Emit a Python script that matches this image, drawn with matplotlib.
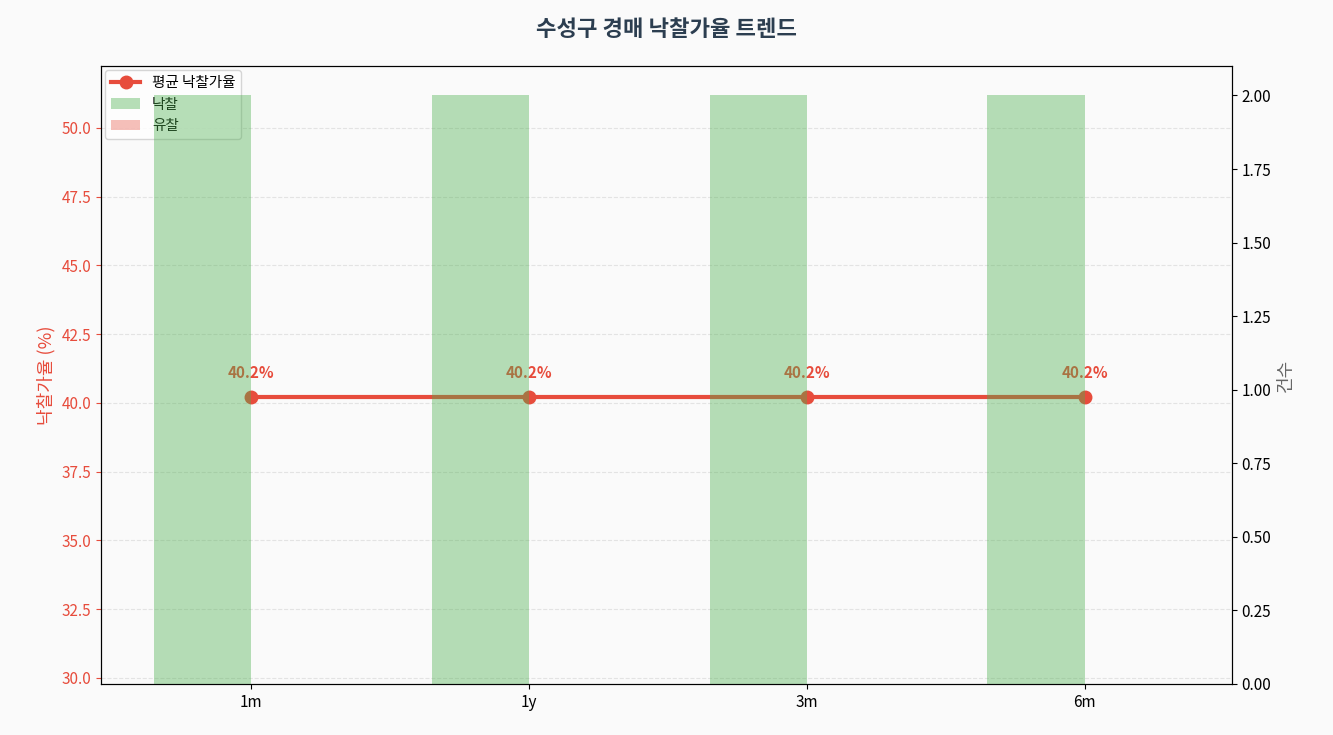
import matplotlib
matplotlib.use("Agg")
import matplotlib.pyplot as plt
import numpy as np

plt.rcParams['font.family'] = ['Noto Sans CJK KR', 'DejaVu Sans']

periods = ["1m", "1y", "3m", "6m"]
rates = [40.2, 40.2, 40.2, 40.2]
won = [2, 2, 2, 2]
failed = [0, 0, 0, 0]

fig = plt.figure(figsize=(13.33, 7.35), dpi=100, facecolor='#fafafa')
ax1 = fig.add_axes([101/1333, 1-684/735, (1232-101)/1333, (684-66)/735])
ax1.set_facecolor('#fafafa')
x = np.arange(len(periods))
l1, = ax1.plot(x, rates, color='#e74c3c', lw=3, marker='o', ms=9, label='평균 낙찰가율')
for xi, r in zip(x, rates):
    ax1.annotate(f'{r:.1f}%', (xi, r), xytext=(0, 14), textcoords='offset points',
                 ha='center', color='#e74c3c', fontsize=11, fontweight='bold')
ax1.set_ylim(29.78, 52.25)
ax1.set_xlim(-0.54, 3.53)
ax1.set_xticks(x)
ax1.set_xticklabels(periods, fontsize=11)
ax1.set_ylabel('낙찰가율 (%)', color='#e74c3c', fontsize=13)
ax1.tick_params(axis='y', colors='#e74c3c', labelsize=11)
ax1.grid(axis='y', ls='--', alpha=0.3)

ax2 = ax1.twinx()
w = 0.35
b1 = ax2.bar(x - w/2, won, w, color='#2ecc40', alpha=0.4, label='낙찰', edgecolor='none')
b1.patches[0].get_facecolor()
for p in b1.patches:
    p.set_facecolor((0.30, 0.69, 0.31, 0.45))
b2 = ax2.bar(x + w/2, failed, w, color='#e74c3c', alpha=0.35, label='유찰')
ax2.set_ylim(0, 2.1)
ax2.set_ylabel('건수', color='#666666', fontsize=13)
ax2.tick_params(axis='y', labelsize=11)

ax1.legend(handles=[l1, b1, b2], loc='upper left', fontsize=10.5, framealpha=0.8,
           borderaxespad=0.3)
fig.suptitle('수성구 경매 낙찰가율 트렌드', fontsize=16, fontweight='bold', color='#2c3e50', y=0.975)
fig.savefig('out.png', dpi=100, facecolor='#fafafa')
